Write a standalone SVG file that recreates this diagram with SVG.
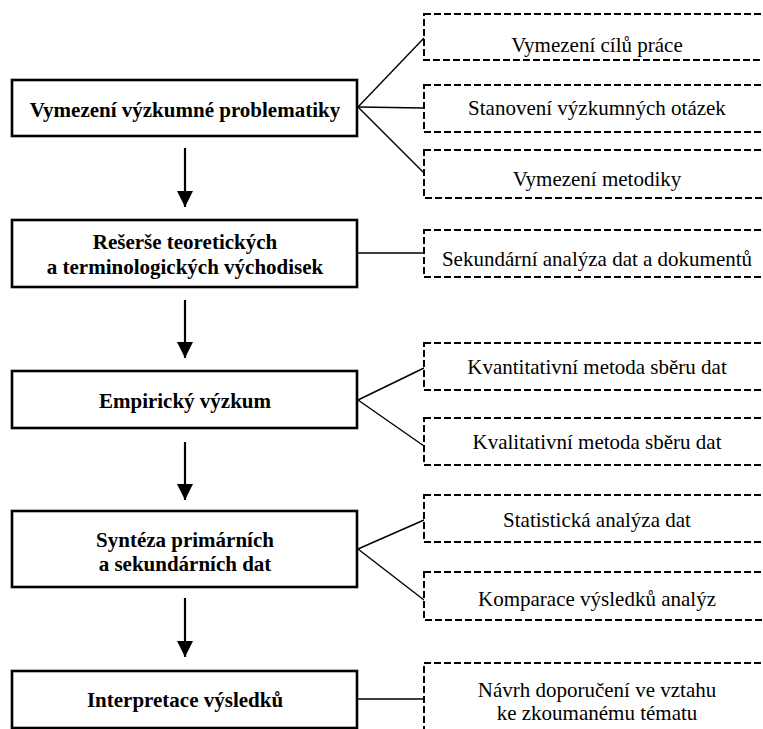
<svg xmlns="http://www.w3.org/2000/svg" width="763" height="729" viewBox="0 0 763 729">
  <style>
    .main rect { fill: #fff; stroke: #000; stroke-width: 2.6; }
    .sub rect { fill: #fff; stroke: #000; stroke-width: 2; stroke-dasharray: 7 3; }
    text { font-family: 'Liberation Serif', 'Tinos', 'Times New Roman', 'DejaVu Serif', serif; font-size: 21px; text-anchor: middle; fill: #000; }
    .main text { font-weight: bold; }
    .link { stroke: #000; stroke-width: 1.4; fill: none; }
    .flow { stroke: #000; stroke-width: 2.2; fill: none; marker-end: url(#head); }
  </style>
  <defs>
    <marker id="head" markerUnits="userSpaceOnUse" markerWidth="16" markerHeight="16" refX="16" refY="8" orient="auto">
      <path d="M0,0 L16,8 L0,16 Z" fill="#000"/>
    </marker>
  </defs>
  <rect width="763" height="729" fill="#fff"/>

  <!-- connectors -->
  <g id="connectors">
    <line class="flow" x1="185" y1="148" x2="185" y2="207"/>
    <line class="flow" x1="185" y1="300" x2="185" y2="358"/>
    <line class="flow" x1="185" y1="442" x2="185" y2="500"/>
    <line class="flow" x1="185" y1="598" x2="185" y2="657"/>

    <line class="link" x1="358" y1="107" x2="424" y2="38"/>
    <line class="link" x1="358" y1="107" x2="424" y2="108"/>
    <line class="link" x1="358" y1="107" x2="424" y2="173"/>
    <line class="link" x1="358" y1="253" x2="424" y2="253"/>
    <line class="link" x1="358" y1="400" x2="424" y2="368"/>
    <line class="link" x1="358" y1="400" x2="424" y2="446"/>
    <line class="link" x1="358" y1="549" x2="424" y2="520"/>
    <line class="link" x1="358" y1="549" x2="424" y2="600"/>
    <line class="link" x1="358" y1="699" x2="424" y2="699"/>
  </g>

  <!-- main steps -->
  <g id="step1" class="main">
    <rect x="12" y="80" width="345" height="56"/>
    <text x="185" y="117" font-family="Liberation Serif">Vymezení výzkumné problematiky</text>
  </g>
  <g id="step2" class="main">
    <rect x="12" y="220" width="345" height="67"/>
    <text x="185" y="249">Rešerše teoretických</text>
    <text x="185" y="274">a terminologických východisek</text>
  </g>
  <g id="step3" class="main">
    <rect x="12" y="371" width="345" height="57"/>
    <text x="185" y="408">Empirický výzkum</text>
  </g>
  <g id="step4" class="main">
    <rect x="12" y="511" width="345" height="76"/>
    <text x="185" y="547">Syntéza primárních</text>
    <text x="185" y="571">a sekundárních dat</text>
  </g>
  <g id="step5" class="main">
    <rect x="12" y="671" width="345" height="57"/>
    <text x="185" y="707">Interpretace výsledků</text>
  </g>

  <!-- detail boxes -->
  <g id="goals" class="sub">
    <rect x="424" y="14" width="360" height="46"/>
    <text x="597" y="52">Vymezení cílů práce</text>
  </g>
  <g id="questions" class="sub">
    <rect x="424" y="85" width="360" height="47"/>
    <text x="597" y="115">Stanovení výzkumných otázek</text>
  </g>
  <g id="methodology" class="sub">
    <rect x="424" y="150" width="360" height="48"/>
    <text x="597" y="186">Vymezení metodiky</text>
  </g>
  <g id="secondary" class="sub">
    <rect x="424" y="230" width="360" height="47"/>
    <text x="597" y="266">Sekundární analýza dat a dokumentů</text>
  </g>
  <g id="quantitative" class="sub">
    <rect x="424" y="343" width="360" height="47"/>
    <text x="597" y="374">Kvantitativní metoda sběru dat</text>
  </g>
  <g id="qualitative" class="sub">
    <rect x="424" y="418" width="360" height="47"/>
    <text x="597" y="449">Kvalitativní metoda sběru dat</text>
  </g>
  <g id="statistics" class="sub">
    <rect x="424" y="495" width="360" height="47"/>
    <text x="597" y="527">Statistická analýza dat</text>
  </g>
  <g id="comparison" class="sub">
    <rect x="424" y="572" width="360" height="48"/>
    <text x="597" y="606">Komparace výsledků analýz</text>
  </g>
  <g id="recommendations" class="sub">
    <rect x="424" y="663" width="360" height="90"/>
    <text x="597" y="697">Návrh doporučení ve vztahu</text>
    <text x="597" y="720">ke zkoumanému tématu</text>
  </g>
</svg>
